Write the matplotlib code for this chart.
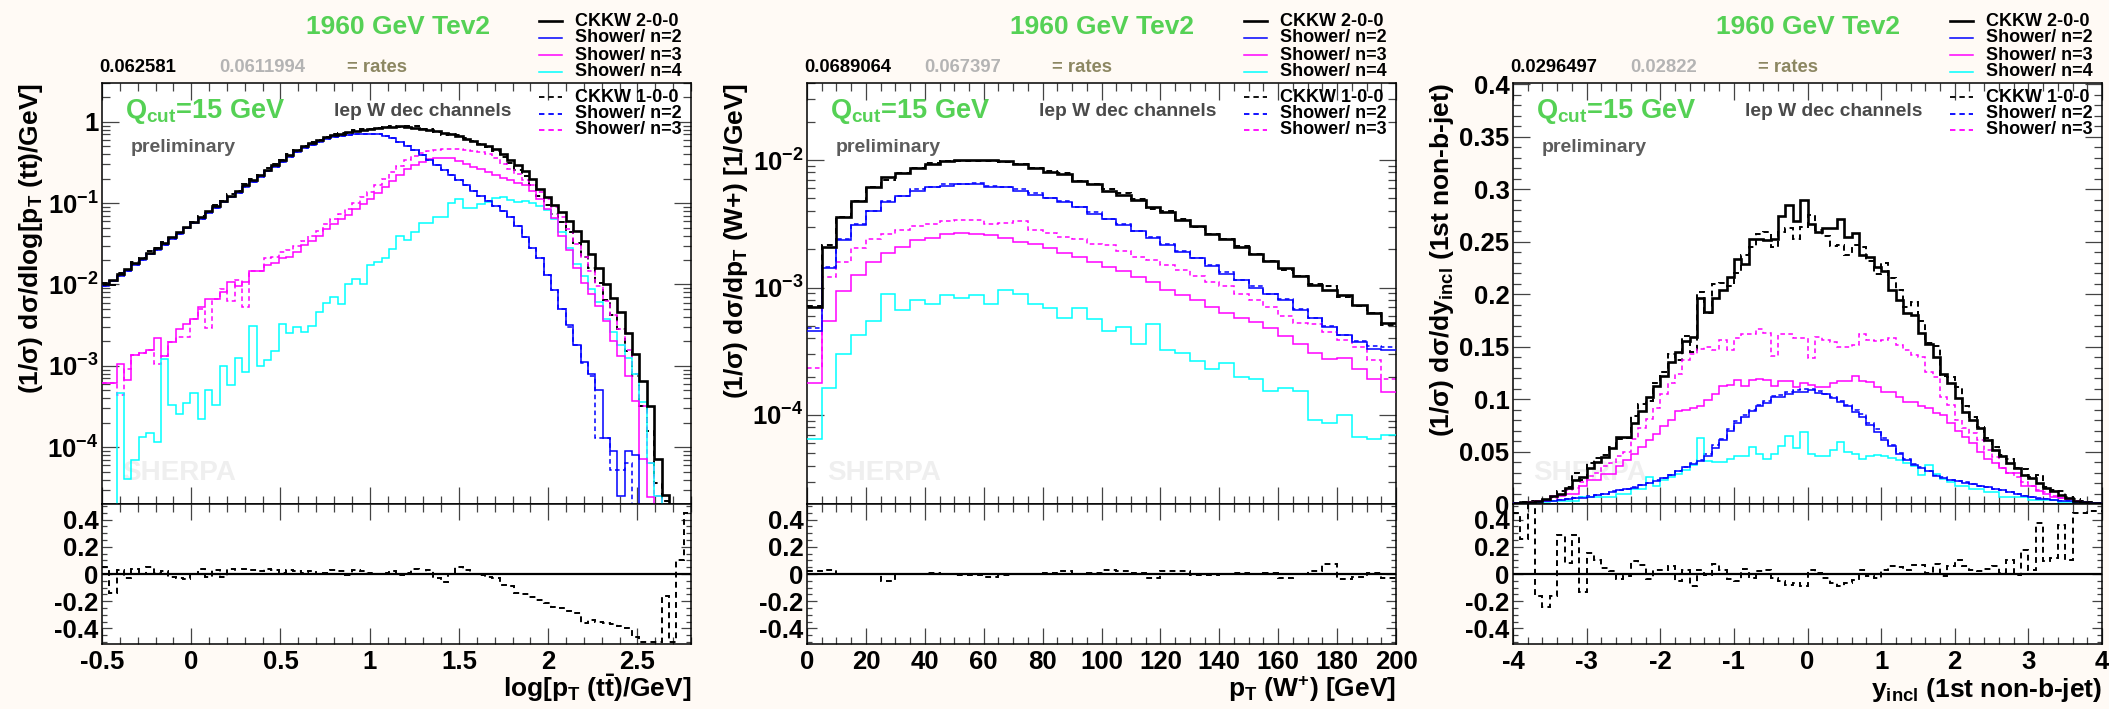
import numpy as np
import matplotlib.pyplot as plt
from matplotlib.lines import Line2D
from matplotlib.ticker import MultipleLocator, LogLocator, FuncFormatter, NullFormatter

plt.rcParams['font.family'] = ['Liberation Sans', 'DejaVu Sans']
plt.rcParams['font.weight'] = 'bold'
plt.rcParams['mathtext.fontset'] = 'custom'
plt.rcParams['mathtext.rm'] = 'Liberation Sans:bold'
plt.rcParams['mathtext.it'] = 'Liberation Sans:bold'
plt.rcParams['mathtext.bf'] = 'Liberation Sans:bold'
plt.rcParams['mathtext.default'] = 'rm'
plt.rcParams['axes.unicode_minus'] = False

nan = np.nan

# ---------------- panel 1: log10[(1/s) ds/dlog pT(tt)], 80 bins on [-0.5, 2.8]
p1_ckkw2 = [-2.00, -1.94, -1.87, -1.81, -1.74, -1.68, -1.61, -1.55, -1.49, -1.42,
            -1.36, -1.29, -1.23, -1.17, -1.10, -1.04, -0.97, -0.91, -0.85, -0.78,
            -0.72, -0.66, -0.59, -0.53, -0.47, -0.41, -0.35, -0.30, -0.26, -0.22,
            -0.19, -0.165, -0.145, -0.13, -0.115, -0.10, -0.09, -0.075, -0.065, -0.058,
            -0.055, -0.06, -0.07, -0.085, -0.10, -0.115, -0.135, -0.155, -0.18, -0.21,
            -0.24, -0.27, -0.30, -0.34, -0.40, -0.47, -0.53, -0.60, -0.70, -0.82,
            -0.92, -1.02, -1.11, -1.22, -1.34, -1.47, -1.62, -1.80, -2.00, -2.17,
            -2.34, -2.60, -2.86, -3.19, -3.50, -4.14, -4.59, nan, nan, nan]
p1_sh2 = [-2.02, -1.96, -1.89, -1.83, -1.76, -1.70, -1.63, -1.57, -1.51, -1.44,
          -1.38, -1.31, -1.25, -1.19, -1.12, -1.06, -0.99, -0.93, -0.87, -0.80,
          -0.74, -0.68, -0.61, -0.55, -0.49, -0.43, -0.37, -0.32, -0.28, -0.245,
          -0.215, -0.19, -0.17, -0.16, -0.15, -0.145, -0.145, -0.15, -0.17, -0.20,
          -0.25, -0.30, -0.35, -0.41, -0.47, -0.53, -0.59, -0.66, -0.72, -0.78,
          -0.85, -0.91, -0.97, -1.04, -1.10, -1.17, -1.28, -1.42, -1.55, -1.68,
          -1.88, -2.07, -2.30, -2.50, -2.75, -2.95, -3.10, -3.30, -3.89, -4.05,
          -4.60, -4.05, -4.10, nan, nan, nan, nan, nan, nan, nan]
p1_sh3 = [-3.21, -3.21, -2.98, -3.17, -2.87, -2.84, -2.80, -2.66, -2.88, -2.71,
          -2.55, -2.49, -2.42, -2.28, -2.18, -2.18, -2.09, -1.97, -2.02, -1.97,
          -1.83, -1.83, -1.76, -1.74, -1.68, -1.66, -1.60, -1.52, -1.47, -1.40,
          -1.32, -1.26, -1.20, -1.14, -1.07, -1.01, -0.95, -0.88, -0.80, -0.73,
          -0.65, -0.58, -0.53, -0.49, -0.46, -0.44, -0.44, -0.45, -0.48, -0.52,
          -0.55, -0.58, -0.62, -0.66, -0.69, -0.72, -0.75, -0.78, -0.85, -0.95,
          -1.07, -1.18, -1.40, -1.58, -1.80, -1.98, -2.12, -2.27, -2.45, -2.70,
          -2.88, -3.13, -3.43, -4.14, -4.61, nan, nan, nan, nan, nan]
p1_sh4 = [nan, nan, -3.33, -4.39, -4.16, -3.88, -3.83, -3.94, -2.92, -3.48,
          -3.59, -3.46, -3.34, -3.66, -3.30, -3.48, -3.00, -3.23, -2.91, -3.07,
          -2.51, -3.00, -2.93, -2.82, -2.49, -2.60, -2.52, -2.58, -2.51, -2.34,
          -2.23, -2.16, -2.24, -2.00, -1.93, -2.00, -1.76, -1.72, -1.68, -1.56,
          -1.40, -1.45, -1.36, -1.25, -1.25, -1.17, -1.17, -1.00, -0.95, -1.06,
          -1.06, -1.01, -0.98, -0.94, -0.93, -0.96, -0.98, -0.97, -1.00, -1.04,
          -1.08, -1.20, -1.35, -1.55, -1.75, -1.90, -2.05, -2.22, -2.42, -2.58,
          -2.75, -2.90, -3.10, -3.45, -4.20, -4.60, nan, nan, nan, nan]
p1_sh2_old = [-2.02, -1.96, -1.89, -1.83, -1.76, -1.70, -1.63, -1.57, -1.51, -1.44,
              -1.38, -1.31, -1.25, -1.19, -1.12, -1.06, -0.99, -0.93, -0.87, -0.80,
              -0.74, -0.68, -0.61, -0.55, -0.49, -0.43, -0.37, -0.32, -0.28, -0.245,
              -0.215, -0.19, -0.17, -0.16, -0.15, -0.145, -0.145, -0.15, -0.17, -0.20,
              -0.25, -0.30, -0.35, -0.41, -0.47, -0.53, -0.59, -0.66, -0.72, -0.78,
              -0.85, -0.91, -0.97, -1.04, -1.10, -1.17, -1.28, -1.42, -1.55, -1.68,
              -1.88, -2.07, -2.30, -2.52, -2.75, -2.97, -3.12, -3.89, -3.89, -4.28,
              -4.28, -4.20, nan, nan, nan, nan, nan, nan, nan, nan]
p1_sh3_old = [-3.21, -3.21, -3.36, -3.04, -2.87, -2.84, -2.80, -2.98, -2.88, -2.71,
              -2.65, -2.65, -2.42, -2.30, -2.53, -2.18, -2.06, -2.20, -1.95, -2.28,
              -1.83, -1.83, -1.68, -1.66, -1.60, -1.58, -1.53, -1.46, -1.41, -1.34,
              -1.26, -1.20, -1.13, -1.07, -1.00, -0.93, -0.86, -0.78, -0.70, -0.62,
              -0.54, -0.47, -0.42, -0.38, -0.36, -0.35, -0.34, -0.34, -0.34, -0.35,
              -0.36, -0.37, -0.40, -0.45, -0.52, -0.58, -0.64, -0.72, -0.78, -0.86,
              -0.95, -1.05, -1.17, -1.32, -1.50, -1.66, -1.84, -2.02, -2.20, -2.38,
              -2.55, -2.80, -3.10, -3.50, -4.20, -4.60, nan, nan, nan, nan]
# CKKW 1-0-0 / CKKW 2-0-0 - 1
p1_ratio = [0.05, -0.14, 0.03, -0.03, 0.04, 0.00, 0.05, 0.01, 0.02, -0.02,
            -0.03, -0.04, 0.00, 0.04, -0.02, 0.03, -0.02, 0.04, 0.00, 0.04,
            0.03, 0.02, 0.04, 0.03, 0.01, 0.03, 0.02, 0.01, 0.02, 0.00,
            0.01, 0.03, 0.02, -0.01, 0.03, 0.02, 0.01, 0.00, 0.01, 0.02,
            -0.01, 0.01, 0.04, 0.00, 0.03, -0.03, -0.06, 0.00, 0.05, 0.03,
            0.00, -0.005, -0.02, -0.03, -0.08, -0.09, -0.14, -0.15, -0.17, -0.19,
            -0.21, -0.24, -0.25, -0.27, -0.29, -0.36, -0.34, -0.35, -0.36, -0.37,
            -0.38, -0.40, -0.46, -0.50, -0.50, -0.50, -0.16, -0.50, 0.10, 0.45]

# ---------------- panel 2: log10[(1/s) ds/dpT(W+)], 40 bins on [0, 200]
p2_ckkw2 = [-3.15, -2.68, -2.45, -2.32, -2.21, -2.13, -2.10, -2.06, -2.03, -2.01,
            -2.00, -2.00, -2.00, -2.01, -2.03, -2.06, -2.09, -2.11, -2.16, -2.19,
            -2.24, -2.27, -2.31, -2.37, -2.41, -2.47, -2.52, -2.58, -2.62, -2.68,
            -2.74, -2.79, -2.85, -2.91, -2.98, -3.02, -3.06, -3.14, -3.20, -3.28]
p2_sh2 = [-3.34, -2.85, -2.63, -2.51, -2.40, -2.33, -2.28, -2.24, -2.21, -2.20,
          -2.19, -2.19, -2.21, -2.21, -2.24, -2.27, -2.30, -2.33, -2.37, -2.42,
          -2.46, -2.51, -2.56, -2.61, -2.67, -2.72, -2.77, -2.83, -2.89, -2.94,
          -3.00, -3.05, -3.10, -3.18, -3.24, -3.31, -3.37, -3.43, -3.48, -3.49]
p2_sh3 = [-3.75, -3.26, -3.03, -2.90, -2.80, -2.73, -2.68, -2.63, -2.61, -2.58,
          -2.57, -2.58, -2.59, -2.61, -2.64, -2.66, -2.69, -2.73, -2.76, -2.80,
          -2.84, -2.87, -2.92, -2.96, -3.02, -3.06, -3.10, -3.15, -3.20, -3.24,
          -3.27, -3.32, -3.38, -3.445, -3.51, -3.56, -3.55, -3.64, -3.72, -3.82]
p2_sh4 = [-4.19, -3.79, -3.52, -3.37, -3.26, -3.05, -3.18, -3.10, -3.13, -3.06,
          -3.08, -3.06, -3.13, -3.02, -3.05, -3.13, -3.16, -3.24, -3.16, -3.25,
          -3.34, -3.31, -3.44, -3.29, -3.49, -3.51, -3.58, -3.64, -3.59, -3.70,
          -3.72, -3.81, -3.79, -3.81, -4.04, -4.06, -4.00, -4.17, -4.19, -4.16]
p2_sh2_old = [-3.32, -2.84, -2.62, -2.50, -2.40, -2.32, -2.28, -2.23, -2.21, -2.19,
              -2.19, -2.18, -2.20, -2.21, -2.23, -2.26, -2.30, -2.32, -2.37, -2.41,
              -2.46, -2.50, -2.56, -2.60, -2.66, -2.71, -2.77, -2.82, -2.88, -2.94,
              -2.99, -3.05, -3.09, -3.17, -3.24, -3.30, -3.37, -3.42, -3.46, -3.47]
p2_sh3_old = [-3.63, -2.92, -2.80, -2.69, -2.62, -2.58, -2.55, -2.52, -2.50, -2.48,
              -2.47, -2.47, -2.50, -2.49, -2.48, -2.55, -2.57, -2.60, -2.62, -2.66,
              -2.67, -2.71, -2.76, -2.78, -2.82, -2.86, -2.91, -2.96, -2.99, -3.05,
              -3.10, -3.15, -3.22, -3.28, -3.29, -3.35, -3.41, -3.47, -3.57, -3.72]
p2_ratio = [0.02, 0.03, 0.0, 0.0, 0.0, -0.05, 0.0, 0.0, 0.01, 0.0,
            -0.01, -0.01, -0.02, -0.01, 0.0, 0.0, 0.01, 0.02, 0.0, 0.01,
            0.03, 0.02, 0.01, -0.03, 0.02, 0.025, -0.005, -0.005, 0.0, 0.01,
            0.0, 0.005, -0.03, 0.0, 0.02, 0.075, -0.04, -0.02, 0.005, -0.03]

# ---------------- panel 3: (1/s) ds/dy_incl (1st non-b-jet), 80 bins on [-4, 4]
p3_ckkw2 = [0.0008, 0.0015, 0.002, 0.003, 0.005, 0.008, 0.0095, 0.015, 0.023, 0.026,
            0.034, 0.040, 0.045, 0.053, 0.064, 0.064, 0.077, 0.089, 0.102, 0.112,
            0.122, 0.135, 0.145, 0.155, 0.159, 0.196, 0.183, 0.196, 0.204, 0.216,
            0.233, 0.229, 0.252, 0.252, 0.251, 0.252, 0.274, 0.285, 0.270, 0.290,
            0.267, 0.259, 0.263, 0.263, 0.271, 0.254, 0.258, 0.237, 0.235, 0.226,
            0.222, 0.204, 0.194, 0.182, 0.180, 0.163, 0.152, 0.140, 0.124, 0.115,
            0.101, 0.088, 0.080, 0.072, 0.061, 0.051, 0.046, 0.039, 0.034, 0.028,
            0.025, 0.020, 0.015, 0.012, 0.009, 0.006, 0.003, 0.002, 0.001, 0.0005]
p3_sh2 = [0.0005, 0.0008, 0.001, 0.002, 0.003, 0.003, 0.004, 0.005, 0.006, 0.006,
          0.007, 0.009, 0.010, 0.011, 0.013, 0.014, 0.015, 0.018, 0.020, 0.022,
          0.025, 0.028, 0.031, 0.035, 0.038, 0.041, 0.046, 0.053, 0.061, 0.070,
          0.077, 0.083, 0.089, 0.093, 0.096, 0.102, 0.102, 0.105, 0.107, 0.107,
          0.109, 0.106, 0.105, 0.101, 0.097, 0.093, 0.088, 0.083, 0.075, 0.069,
          0.061, 0.055, 0.048, 0.042, 0.037, 0.034, 0.031, 0.027, 0.025, 0.023,
          0.022, 0.020, 0.019, 0.017, 0.016, 0.014, 0.013, 0.011, 0.010, 0.008,
          0.007, 0.005, 0.005, 0.004, 0.003, 0.003, 0.002, 0.0015, 0.001, 0.0005]
p3_sh3 = [0.0005, 0.001, 0.002, 0.003, 0.003, 0.008, 0.008, 0.010, 0.010, 0.017,
          0.023, 0.023, 0.029, 0.029, 0.036, 0.042, 0.048, 0.054, 0.061, 0.067,
          0.074, 0.080, 0.089, 0.090, 0.091, 0.093, 0.099, 0.105, 0.112, 0.113,
          0.118, 0.112, 0.118, 0.119, 0.118, 0.112, 0.117, 0.117, 0.111, 0.115,
          0.113, 0.111, 0.111, 0.115, 0.117, 0.117, 0.122, 0.117, 0.116, 0.111,
          0.107, 0.107, 0.102, 0.097, 0.097, 0.093, 0.091, 0.087, 0.085, 0.077,
          0.070, 0.064, 0.058, 0.050, 0.043, 0.039, 0.034, 0.030, 0.030, 0.017,
          0.017, 0.012, 0.010, 0.007, 0.006, 0.005, 0.003, 0.002, 0.001, 0.0005]
p3_sh4 = [0.0003, 0.0005, 0.001, 0.002, 0.002, 0.003, 0.003, 0.003, 0.003, 0.007,
          0.007, 0.007, 0.007, 0.007, 0.010, 0.010, 0.014, 0.014, 0.026, 0.017,
          0.023, 0.026, 0.029, 0.032, 0.037, 0.063, 0.041, 0.040, 0.040, 0.043,
          0.046, 0.046, 0.054, 0.048, 0.043, 0.048, 0.055, 0.065, 0.053, 0.069,
          0.048, 0.046, 0.046, 0.051, 0.059, 0.050, 0.048, 0.043, 0.046, 0.047,
          0.046, 0.044, 0.042, 0.039, 0.036, 0.028, 0.037, 0.029, 0.024, 0.021,
          0.017, 0.017, 0.014, 0.014, 0.011, 0.011, 0.007, 0.007, 0.007, 0.007,
          0.004, 0.004, 0.004, 0.004, 0.002, 0.002, 0.002, 0.001, 0.001, 0.001]
p3_sh2_old = [0.0005, 0.0008, 0.001, 0.002, 0.003, 0.003, 0.004, 0.005, 0.006, 0.007,
              0.008, 0.009, 0.010, 0.012, 0.013, 0.014, 0.016, 0.018, 0.020, 0.023,
              0.025, 0.028, 0.031, 0.035, 0.039, 0.042, 0.048, 0.056, 0.062, 0.071,
              0.079, 0.085, 0.090, 0.094, 0.098, 0.103, 0.104, 0.107, 0.109, 0.110,
              0.110, 0.108, 0.105, 0.102, 0.098, 0.094, 0.090, 0.086, 0.077, 0.071,
              0.063, 0.056, 0.049, 0.043, 0.038, 0.035, 0.031, 0.028, 0.026, 0.023,
              0.022, 0.021, 0.019, 0.017, 0.016, 0.014, 0.013, 0.011, 0.010, 0.008,
              0.007, 0.006, 0.005, 0.004, 0.003, 0.003, 0.002, 0.0015, 0.001, 0.0005]
p3_sh3_old = [0.0005, 0.001, 0.002, 0.003, 0.004, 0.006, 0.009, 0.013, 0.015, 0.021,
              0.027, 0.030, 0.036, 0.039, 0.046, 0.050, 0.062, 0.072, 0.081, 0.091,
              0.105, 0.115, 0.124, 0.137, 0.143, 0.148, 0.150, 0.147, 0.156, 0.147,
              0.158, 0.162, 0.162, 0.167, 0.163, 0.141, 0.162, 0.162, 0.158, 0.158,
              0.139, 0.159, 0.156, 0.154, 0.150, 0.150, 0.151, 0.162, 0.156, 0.155,
              0.156, 0.158, 0.151, 0.147, 0.142, 0.140, 0.126, 0.121, 0.102, 0.094,
              0.080, 0.072, 0.068, 0.061, 0.051, 0.045, 0.034, 0.030, 0.026, 0.021,
              0.017, 0.013, 0.011, 0.008, 0.006, 0.005, 0.003, 0.002, 0.001, 0.0005]
p3_ratio = [0.45, 0.26, 0.6, -0.16, -0.24, -0.16, 0.29, 0.08, 0.29, -0.13,
            0.155, 0.105, 0.044, 0.02, -0.04, -0.017, 0.093, 0.069, -0.04, 0.032,
            0.032, 0.056, -0.054, 0.032, -0.09, 0.032, -0.005, 0.07, 0.032, -0.04,
            -0.054, 0.037, -0.03, 0.02, 0.032, -0.03, -0.054, -0.078, -0.066, -0.09,
            0.032, 0.007, -0.03, -0.066, -0.09, -0.066, -0.042, 0.032, -0.017, -0.03,
            0.032, 0.056, 0.049, 0.032, 0.069, 0.069, 0.007, 0.076, -0.017, 0.056,
            0.105, 0.056, 0.032, 0.02, 0.037, 0.061, 0.007, 0.105, -0.005, 0.18,
            0.032, 0.375, 0.093, 0.118, 0.36, 0.105, 0.45, 0.45, 0.46, 0.46]

rates = [('0.062581', '0.0611994'), ('0.0689064', '0.067397'), ('0.0296497', '0.02822')]
ylabels = ['(1/\u03c3) d\u03c3/dlog[p$_{\\mathrm{T}}$ (tt)/GeV]',
           '(1/\u03c3) d\u03c3/dp$_{\\mathrm{T}}$ (W+) [1/GeV]',
           '(1/\u03c3) d\u03c3/dy$_{\\mathrm{incl}}$ (1st non-b-jet)']
xlabels = ['log[p$_{\\mathrm{T}}$ (t$\\bar{\\mathrm{t}}$)/GeV]',
           'p$_{\\mathrm{T}}$ (W$^{+}$) [GeV]',
           'y$_{\\mathrm{incl}}$ (1st non-b-jet)']
leg_solid = ['CKKW 2-0-0', 'Shower/ n=2', 'Shower/ n=3', 'Shower/ n=4']
leg_dash = ['CKKW 1-0-0', 'Shower/ n=2', 'Shower/ n=3']


def from_log(a):
    return np.nan_to_num(10.0 ** np.array(a, dtype=float), nan=0.0)


def lin(a):
    return np.array(a, dtype=float)


panels = [
    dict(axl=102, edges=np.linspace(-0.5, 2.8, 81), log=True, ylim=(2e-5, 3.0),
         xmaj=0.5, xmin=0.1, solid=[from_log(p1_ckkw2), from_log(p1_sh2), from_log(p1_sh3), from_log(p1_sh4)],
         dash=[from_log(p1_sh2_old), from_log(p1_sh3_old)], ratio=lin(p1_ratio)),
    dict(axl=807, edges=np.linspace(0, 200, 41), log=True, ylim=(2e-5, 0.0403),
         xmaj=20, xmin=5, solid=[from_log(p2_ckkw2), from_log(p2_sh2), from_log(p2_sh3), from_log(p2_sh4)],
         dash=[from_log(p2_sh2_old), from_log(p2_sh3_old)], ratio=lin(p2_ratio)),
    dict(axl=1513, edges=np.linspace(-4, 4, 81), log=False, ylim=(0, 0.401),
         xmaj=1, xmin=0.2, solid=[lin(p3_ckkw2), lin(p3_sh2), lin(p3_sh3), lin(p3_sh4)],
         dash=[lin(p3_sh2_old), lin(p3_sh3_old)], ratio=lin(p3_ratio)),
]

W, H = 2109, 709
AXW = 589
fig = plt.figure(figsize=(W / 100, H / 100), dpi=100, facecolor='#fffaf5')


def fx(px):
    return px / W


def fy(py):
    return 1 - py / H


colors = ['black', '#0000ff', '#ff00ff', '#00ffff']
lws = [1.9, 1.1, 1.1, 1.1]
dash = (0, (3, 2.2))
green = '#55d155'
tick_col = '#444444'
fmt_g = FuncFormatter(lambda v, p: '%g' % round(v, 6))


def log_fmt(v, p):
    e = int(round(np.log10(v)))
    return '1' if e == 0 else '10$^{%d}$' % e


for i, pan in enumerate(panels):
    axl = pan['axl']
    edges = pan['edges']
    main = fig.add_axes([fx(axl), fy(504), fx(AXW), 421 / H])
    rat = fig.add_axes([fx(axl), fy(644), fx(AXW), 140 / H], sharex=main)

    black = pan['solid'][0]
    black_old = black * (1 + pan['ratio'])
    main.stairs(black_old, edges, color='black', lw=1.4, ls=dash, baseline=None, zorder=2)
    for vals, c in zip(pan['dash'], colors[1:3]):
        main.stairs(vals, edges, color=c, lw=1.1, ls=dash, baseline=None, zorder=2)
    for vals, c, lw in list(zip(pan['solid'], colors, lws))[::-1]:
        main.stairs(vals, edges, color=c, lw=lw, baseline=None, zorder=3)

    if pan['log']:
        main.set_yscale('log')
        main.yaxis.set_major_locator(LogLocator(base=10, numticks=20))
        main.yaxis.set_minor_locator(LogLocator(base=10, subs=np.arange(2, 10), numticks=20))
        main.yaxis.set_major_formatter(FuncFormatter(log_fmt))
        main.yaxis.set_minor_formatter(NullFormatter())
    else:
        main.yaxis.set_major_locator(MultipleLocator(0.05))
        main.yaxis.set_minor_locator(MultipleLocator(0.01))
        main.yaxis.set_major_formatter(fmt_g)
    main.set_ylim(*pan['ylim'])
    main.set_xlim(edges[0], edges[-1])

    rat.stairs(pan['ratio'], edges, color='black', lw=1.4, ls=dash, baseline=None, zorder=2)
    rat.axhline(0, color='black', lw=1.6, zorder=3)
    rat.set_ylim(-0.515, 0.515)
    rat.yaxis.set_major_locator(MultipleLocator(0.2))
    rat.yaxis.set_minor_locator(MultipleLocator(0.05))
    rat.yaxis.set_major_formatter(fmt_g)
    rat.xaxis.set_major_locator(MultipleLocator(pan['xmaj']))
    rat.xaxis.set_minor_locator(MultipleLocator(pan['xmin']))
    rat.xaxis.set_major_formatter(fmt_g)

    for ax in (main, rat):
        ax.set_facecolor('white')
        for s in ax.spines.values():
            s.set_linewidth(1.1)
        ax.tick_params(which='both', direction='in', top=True, right=True,
                       color=tick_col, width=0.9, labelsize=18.5)
    main.tick_params(axis='both', which='major', length=12)
    main.tick_params(axis='both', which='minor', length=5.8)
    main.tick_params(axis='x', labelbottom=False)
    main.tick_params(axis='y', pad=2.5)
    rat.tick_params(axis='x', which='major', length=11.5, pad=4.5)
    rat.tick_params(axis='x', which='minor', length=5.4)
    rat.tick_params(axis='y', which='major', length=7.2, pad=2.5)
    rat.tick_params(axis='y', which='minor', length=3.6)

    # axis titles
    fig.text(fx(axl - 71), fy(83), ylabels[i], rotation=90, ha='center', va='top', fontsize=19)
    fig.text(fx(axl + AXW), fy(697), xlabels[i], ha='right', va='baseline', fontsize=19)

    # header texts
    fig.text(fx(axl + 295.5), fy(27), '1960 GeV Tev2', color=green, fontsize=19, ha='center', va='center')
    fig.text(fx(axl - 3), fy(68), rates[i][0], color='black', fontsize=13.3, va='center')
    fig.text(fx(axl + 117), fy(68), rates[i][1], color='#b4b4b4', fontsize=13.3, va='center')
    fig.text(fx(axl + 245), fy(68), '= rates', color='#8c8762', fontsize=13.3, va='center')

    for lab, c, lw, yy in zip(leg_solid, colors, lws, [21, 38, 55, 72]):
        fig.add_artist(Line2D([fx(axl + 437), fx(axl + 460)], [fy(yy), fy(yy)],
                              transform=fig.transFigure, color=c, lw=lw))
        fig.text(fx(axl + 473), fy(yy), lab, fontsize=13, va='center')
    for lab, c, yy in zip(leg_dash, colors[:3], [97, 114, 130]):
        fig.add_artist(Line2D([fx(axl + 437), fx(axl + 460)], [fy(yy), fy(yy)],
                              transform=fig.transFigure, color=c, lw=1.3, ls=dash))
        fig.text(fx(axl + 473), fy(yy), lab, fontsize=13, va='center')

    fig.text(fx(axl + 23), fy(118), 'Q$_{\\mathrm{cut}}$=15 GeV', color=green, fontsize=19.5, va='baseline')
    fig.text(fx(axl + 232), fy(112), 'lep W dec channels', color='#4a4a4a', fontsize=13.8, va='center')
    fig.text(fx(axl + 29), fy(148), 'preliminary', color='#5c5c5c', fontsize=14, va='center')
    main.text(fx(axl + 20), fy(473), 'SHERPA', color='#efefef', fontsize=20, va='center',
              transform=fig.transFigure, zorder=0.5)

fig.savefig('out.png', dpi=100, facecolor=fig.get_facecolor())
